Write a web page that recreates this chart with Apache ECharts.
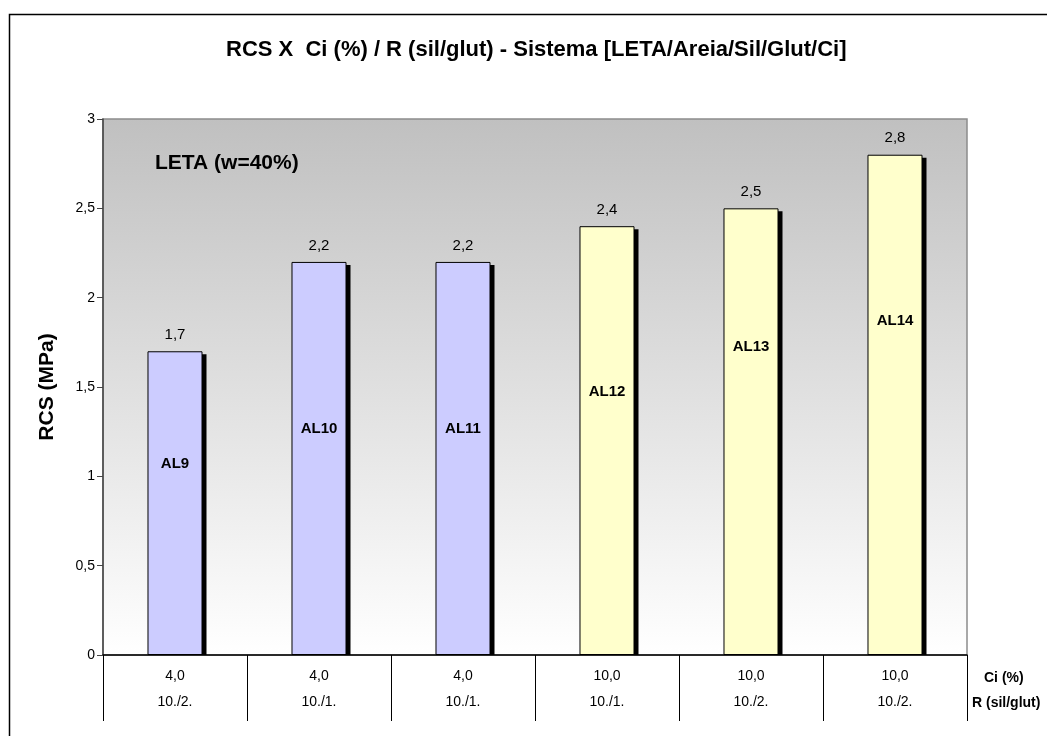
<!DOCTYPE html>
<html>
<head>
<meta charset="utf-8">
<title>RCS X Ci (%) / R (sil/glut)</title>
<script src="https://cdn.jsdelivr.net/npm/echarts@6/dist/echarts.min.js"></script>
<style>
  html, body { margin: 0; padding: 0; background: #ffffff; }
  #chart { width: 1047px; height: 736px; }
</style>
</head>
<body>
<div id="chart"></div>
<script>
// Samples (mixes) of the LETA / Areia / Sil / Glut / Ci system
const samples = ['AL9', 'AL10', 'AL11', 'AL12', 'AL13', 'AL14'];
// Compressive strength RCS, MPa
const rcs = [1.7, 2.2, 2.2, 2.4, 2.5, 2.8];
// Data-table rows under the axis
const ciPct = ['4,0', '4,0', '4,0', '10,0', '10,0', '10,0'];
const ratioSilGlut = ['10./2.', '10./1.', '10./1.', '10./1.', '10./2.', '10./2.'];
// Y axis ticks
const yTicks = [0, 0.5, 1, 1.5, 2, 2.5, 3];

// Styling: bar fills per sample, and where the sample name sits inside each bar (% from bar top)
const barFills = ['#ccccff', '#ccccff', '#ccccff', '#ffffcc', '#ffffcc', '#ffffcc'];
const nameLabelAt = ['37%', '42.5%', '42.5%', '38.7%', '31%', '33.2%'];

const FONT = '"Liberation Sans", Arial, sans-serif';
const BAR_RATIO = 0.382;
const comma = v => String(v).replace('.', ',');

const chart = echarts.init(document.getElementById('chart'), null, { renderer: 'canvas' });

const option = {
  animation: false,
  backgroundColor: '#ffffff',
  textStyle: { fontFamily: FONT, color: '#000' },
  title: {
    text: 'RCS X  Ci (%) / R (sil/glut) - Sistema [LETA/Areia/Sil/Glut/Ci]',
    left: 221,
    top: 34,
    textStyle: { fontFamily: FONT, fontSize: 22, fontWeight: 'bold', color: '#000' }
  },
  grid: {
    left: 103, top: 119, width: 864, bottom: 81,
    show: true,
    borderColor: '#8c8c8c',
    borderWidth: 1.5,
    backgroundColor: new echarts.graphic.LinearGradient(0, 0, 0, 1, [
      { offset: 0, color: '#c0c0c0' },
      { offset: 1, color: '#ffffff' }
    ])
  },
  xAxis: {
    type: 'category',
    data: samples,
    boundaryGap: true,
    axisLine: { show: true, lineStyle: { color: '#000', width: 1.5 } },
    axisTick: { show: true, alignWithLabel: false, length: 66, lineStyle: { color: '#000', width: 1 } },
    axisLabel: {
      margin: 8,
      fontFamily: FONT,
      fontSize: 14,
      lineHeight: 26,
      color: '#000',
      formatter: (val, i) => ciPct[i] + '\n' + ratioSilGlut[i]
    },
    splitLine: { show: false }
  },
  yAxis: {
    type: 'value',
    min: yTicks[0],
    max: yTicks[yTicks.length - 1],
    interval: yTicks[1] - yTicks[0],
    name: 'RCS (MPa)',
    nameLocation: 'middle',
    nameGap: 45,
    nameTextStyle: { fontFamily: FONT, fontSize: 21, fontWeight: 'bold', color: '#000' },
    axisLine: { show: true, lineStyle: { color: '#444', width: 1.5 } },
    axisTick: { show: true, inside: false, length: 6, lineStyle: { color: '#444' } },
    axisLabel: { fontFamily: FONT, fontSize: 14, color: '#000', margin: 8, formatter: v => comma(v) },
    splitLine: { show: false }
  },
  series: [
    {
      // drop shadow offset to the lower right of each bar
      type: 'custom',
      z: 1,
      silent: true,
      data: rcs.map((v, i) => [i, v]),
      encode: { x: 0, y: 1 },
      renderItem: (params, api) => {
        const i = api.value(0);
        const top = api.coord([i, api.value(1)]);
        const base = api.coord([i, 0]);
        const w = api.size([1, 0])[0] * BAR_RATIO;
        return {
          type: 'rect',
          shape: { x: top[0] - w / 2 + 4, y: top[1] + 3, width: w, height: base[1] - top[1] - 3 },
          style: { fill: '#000' }
        };
      }
    },
    {
      type: 'bar',
      z: 2,
      barWidth: (BAR_RATIO * 100) + '%',
      barGap: '-100%',
      data: rcs.map((v, i) => ({ value: v, itemStyle: { color: barFills[i] } })),
      itemStyle: { borderColor: '#000', borderWidth: 1 },
      label: {
        show: true,
        position: 'top',
        distance: 9,
        fontFamily: FONT,
        fontSize: 15,
        color: '#000',
        formatter: p => comma(p.value)
      }
    },
    {
      // sample names written inside the bars
      type: 'bar',
      z: 3,
      barWidth: (BAR_RATIO * 100) + '%',
      barGap: '-100%',
      itemStyle: { color: 'rgba(0,0,0,0)' },
      data: rcs.map((v, i) => ({
        value: v,
        label: { position: ['50%', nameLabelAt[i]] }
      })),
      label: {
        show: true,
        align: 'center',
        verticalAlign: 'middle',
        fontFamily: FONT,
        fontSize: 15,
        fontWeight: 'bold',
        color: '#000',
        formatter: p => samples[p.dataIndex]
      }
    }
  ],
  graphic: [
    {
      type: 'rect',
      silent: true,
      shape: { x: 9.5, y: 14.5, width: 1100, height: 800 },
      style: { fill: 'none', stroke: '#000', lineWidth: 1.5 }
    },
    {
      type: 'text',
      left: 155, top: 153,
      style: { text: 'LETA (w=40%)', font: 'bold 21px ' + FONT, fill: '#000' }
    },
    {
      type: 'text',
      left: 984, top: 671,
      style: { text: 'Ci (%)', font: 'bold 14px ' + FONT, fill: '#000' }
    },
    {
      type: 'text',
      left: 972, top: 696,
      style: { text: 'R (sil/glut)', font: 'bold 14px ' + FONT, fill: '#000' }
    }
  ]
};

chart.setOption(option);
</script>
</body>
</html>
